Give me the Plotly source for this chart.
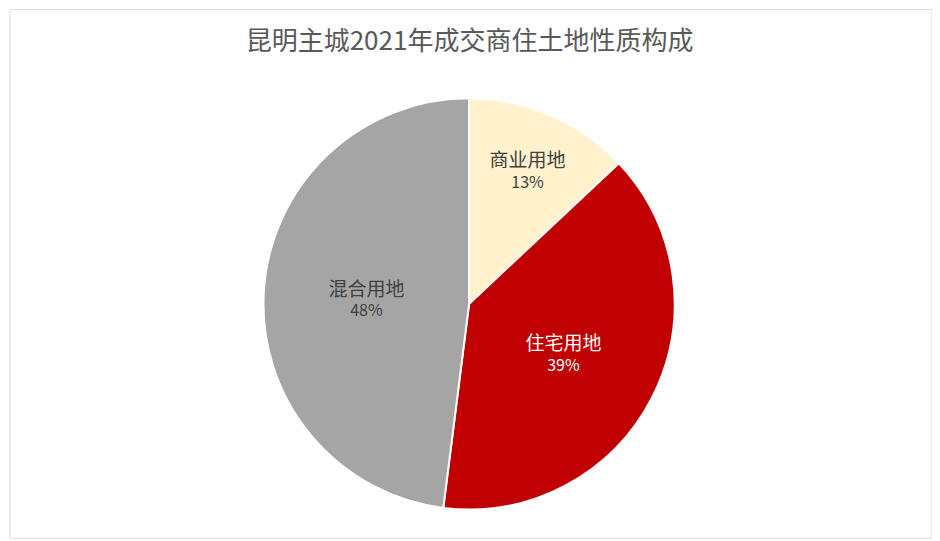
import plotly.graph_objects as go

labels = ["商业用地", "住宅用地", "混合用地"]
values = [13, 39, 48]
colors = ["#FFF2CC", "#C00000", "#A5A5A5"]
text_colors = ["#404040", "#FFFFFF", "#404040"]

fig = go.Figure(go.Pie(
    labels=labels, values=values, sort=False, direction="clockwise", rotation=0,
    marker=dict(colors=colors, line=dict(color="white", width=2)),
    texttemplate="<span style='font-size:19px'>%{label}</span><br>%{percent:.0%}",
    textposition="inside", insidetextorientation="horizontal",
    textfont=dict(family="Noto Sans CJK SC", size=16, color=text_colors),
    domain=dict(x=[0.2715, 0.7095], y=[0.073, 0.833]),
    showlegend=False, hoverinfo="label+percent",
))
fig.update_layout(
    width=940, height=541, margin=dict(l=0, r=0, t=0, b=0),
    paper_bgcolor="white",
    title=dict(text="昆明主城2021年成交商住土地性质构成", x=0.491, y=0.94, xanchor="center", yanchor="middle",
               font=dict(family="Noto Sans CJK SC", size=26, color="#595959")),
    shapes=[dict(type="rect", xref="paper", yref="paper", x0=0.002, y0=0.02, x1=0.983, y1=0.997,
                 line=dict(color="#D9D9D9", width=1))],
)
fig.write_html("out.html")
